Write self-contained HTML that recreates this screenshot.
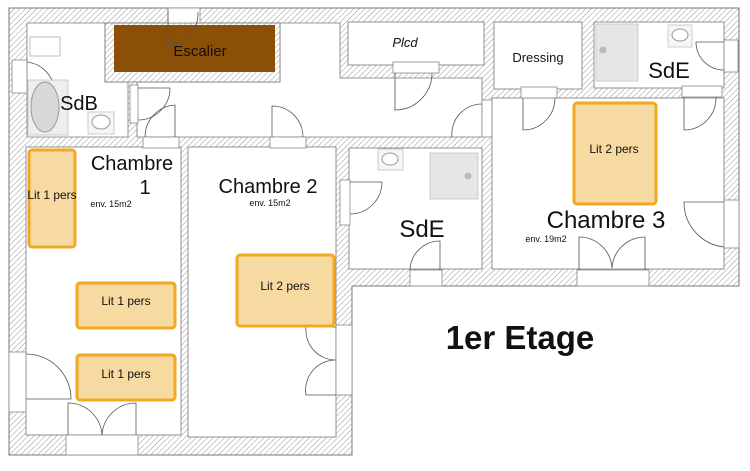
<!DOCTYPE html>
<html><head><meta charset="utf-8"><style>
html,body{margin:0;padding:0;background:#fff;}
svg{display:block;}
text{font-family:"Liberation Sans",sans-serif;fill:#111;}
</style></head><body>
<svg width="750" height="471" viewBox="0 0 750 471" xmlns="http://www.w3.org/2000/svg">
<defs>
<pattern id="h" width="4" height="4" patternUnits="userSpaceOnUse" patternTransform="rotate(45)">
<rect width="4" height="4" fill="#fff"/><line x1="0" y1="0" x2="0" y2="4" stroke="#999" stroke-width="1"/>
</pattern>
</defs>
<!-- outer walls -->
<polygon points="9,8 739,8 739,286 352,286 352,455 9,455" fill="url(#h)" stroke="#777" stroke-width="1"/>
<g fill="#fff" stroke="#777" stroke-width="0.8">
<!-- SdB -->
<polygon points="27,23 105,23 105,82 128,82 128,137 27,137"/>
<!-- hall -->
<polygon points="105,23 340,23 340,78 482,78 482,137 137,137 137,82 280,82 280,23"/>
<!-- Plcd -->
<rect x="348" y="22" width="136" height="43"/>
<!-- Dressing -->
<rect x="494" y="22" width="88" height="67"/>
<!-- SdE top right -->
<rect x="594" y="22" width="130" height="66"/>
<!-- Chambre 1 -->
<rect x="26" y="147" width="155" height="288"/>
<!-- Chambre 2 -->
<rect x="188" y="147" width="148" height="290"/>
<!-- SdE mid -->
<rect x="349" y="148" width="133" height="121"/>
<!-- Chambre 3 -->
<rect x="492" y="98" width="232" height="171"/>
</g>
<!-- escalier wall & stairs -->
<rect x="105" y="23" width="175" height="59" fill="url(#h)" stroke="#777" stroke-width="0.8"/>
<rect x="114" y="25" width="161" height="47" fill="#8b4f06"/>
<text x="200" y="56" font-size="15" text-anchor="middle">Escalier</text>
<!-- doors (white gaps) -->
<g fill="#fff" stroke="#888" stroke-width="0.8">
<rect x="168" y="8" width="32" height="15"/>
<rect x="12" y="60" width="15" height="33"/>
<rect x="130" y="85" width="8" height="38"/>
<rect x="143" y="137" width="36" height="11"/>
<rect x="270" y="137" width="36" height="11"/>
<rect x="393" y="62" width="46" height="11"/>
<rect x="482" y="100" width="10" height="37"/>
<rect x="521" y="87" width="36" height="11"/>
<rect x="682" y="86" width="40" height="11"/>
<rect x="724" y="40" width="14" height="32"/>
<rect x="340" y="180" width="10" height="45"/>
<rect x="410" y="270" width="32" height="16"/>
<rect x="577" y="270" width="72" height="16"/>
<rect x="724" y="200" width="15" height="48"/>
<rect x="336" y="325" width="16" height="70"/>
<rect x="9" y="352" width="17" height="60"/>
<rect x="66" y="435" width="72" height="20"/>
</g>
<!-- door arcs -->
<g fill="none" stroke="#555" stroke-width="0.8">
<path d="M168,10 L168,45 A32,32 0 0 0 198,12"/>
<path d="M27,62 A32,32 0 0 1 55,92"/>
<path d="M138,88 L170,88 A32,32 0 0 1 138,120"/>
<path d="M145,137 A32,32 0 0 1 175,105 L175,137"/>
<path d="M272,137 L272,106 A31,31 0 0 1 303,137"/>
<path d="M395,73 L395,110 A37,37 0 0 0 432,73"/>
<path d="M452,137 A30,30 0 0 1 482,104"/>
<path d="M523,98 L523,130 A32,32 0 0 0 555,98"/>
<path d="M684,97 L684,130 A32,32 0 0 0 716,97"/>
<path d="M724,42 L696,42 A28,28 0 0 0 724,70"/>
<path d="M350,182 L382,182 A32,32 0 0 1 350,214"/>
<path d="M410,270 A30,30 0 0 1 440,241 L440,270"/>
<path d="M579,270 L579,237 A33,33 0 0 1 612,268 A33,33 0 0 1 645,237 L645,270"/>
<path d="M724,202 L684,202 A45,45 0 0 0 724,247"/>
<path d="M336,327 L306,327 A30,30 0 0 0 336,360 A30,30 0 0 0 306,395 L336,395"/>
<path d="M26,354 A45,45 0 0 1 71,399 L26,399"/>
<path d="M68,435 L68,403 A34,34 0 0 1 102,435 A34,34 0 0 1 136,403 L136,435"/>
</g>
<!-- fixtures -->
<rect x="30" y="37" width="30" height="19" fill="#fff" stroke="#bbb"/>
<rect x="28" y="80" width="40" height="55" fill="#eee" stroke="#ccc"/>
<ellipse cx="45" cy="107" rx="14" ry="25" fill="#d8d8d8" stroke="#999"/>
<rect x="88" y="112" width="26" height="22" fill="#f6f6f6" stroke="#ccc"/>
<ellipse cx="101" cy="122" rx="9" ry="7" fill="#fff" stroke="#999"/>
<rect x="378" y="149" width="25" height="21" fill="#f6f6f6" stroke="#ccc"/>
<ellipse cx="390" cy="159" rx="8" ry="6" fill="#fff" stroke="#999"/>
<rect x="430" y="153" width="48" height="46" fill="#e6e6e6" stroke="#ccc"/>
<circle cx="468" cy="176" r="3.5" fill="#bbb"/>
<rect x="596" y="24" width="42" height="57" fill="#e6e6e6" stroke="#ccc"/>
<circle cx="603" cy="50" r="3.5" fill="#bbb"/>
<rect x="668" y="25" width="24" height="22" fill="#f6f6f6" stroke="#ccc"/>
<ellipse cx="680" cy="35" rx="8" ry="6" fill="#fff" stroke="#999"/>
<!-- beds -->
<g fill="#f7d9a2" stroke="#f2a922" stroke-width="3">
<rect x="29" y="150" width="46" height="97" rx="3"/>
<rect x="77" y="283" width="98" height="45" rx="3"/>
<rect x="77" y="355" width="98" height="45" rx="3"/>
<rect x="237" y="255" width="97" height="71" rx="3"/>
<rect x="574" y="103" width="82" height="101" rx="3"/>
</g>
<g font-size="12" text-anchor="middle">
<text x="52" y="199">Lit 1 pers</text>
<text x="126" y="305">Lit 1 pers</text>
<text x="126" y="378">Lit 1 pers</text>
<text x="285" y="290">Lit 2 pers</text>
<text x="614" y="153">Lit 2 pers</text>
</g>
<!-- labels -->
<text x="405" y="47" font-size="13" font-style="italic" text-anchor="middle">Plcd</text>
<text x="538" y="62" font-size="13" text-anchor="middle">Dressing</text>
<text x="669" y="78" font-size="22" text-anchor="middle">SdE</text>
<text x="79" y="110" font-size="20" text-anchor="middle">SdB</text>
<text x="132" y="170" font-size="20" text-anchor="middle">Chambre</text>
<text x="145" y="194" font-size="20" text-anchor="middle">1</text>
<text x="111" y="207" font-size="9" text-anchor="middle">env. 15m2</text>
<text x="268" y="193" font-size="20" text-anchor="middle">Chambre 2</text>
<text x="270" y="206" font-size="9" text-anchor="middle">env. 15m2</text>
<text x="422" y="237" font-size="24" text-anchor="middle">SdE</text>
<text x="606" y="228" font-size="24" text-anchor="middle">Chambre 3</text>
<text x="546" y="242" font-size="9" text-anchor="middle">env. 19m2</text>
<text x="520" y="349" font-size="33" font-weight="bold" text-anchor="middle">1er Etage</text>
</svg>
</body></html>
